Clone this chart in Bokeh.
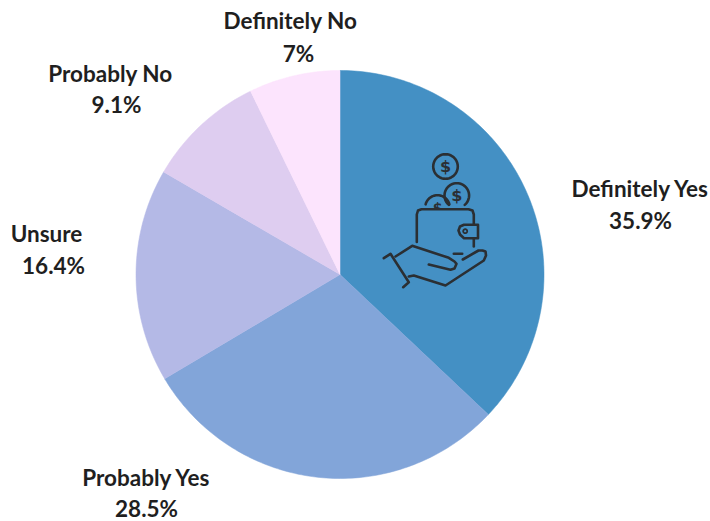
import math
from bokeh.plotting import figure
from bokeh.embed import file_html
from bokeh.resources import INLINE
from bokeh.core.properties import value

categories = ["Definitely Yes", "Probably Yes", "Unsure", "Probably No", "Definitely No"]
values = [35.9, 28.5, 16.4, 9.1, 7]
value_labels = ["35.9%", "28.5%", "16.4%", "9.1%", "7%"]
colors = ["#4490C4", "#82A5D9", "#B4B9E6", "#DECDF0", "#FCE4FD"]
label_x = [640, 146, 46, 110, 290]
label_top = [188, 477, 233, 73, 20]
label_bottom = [220, 508, 265, 104, 53]
value_x = [640, 146, 53, 116, 298]

W, H = 710, 521
CX, CY, R = 339.5, 274, 204
FONT = value("Lato")
INK = "#2b2f33"

p = figure(width=W, height=H, x_range=(0, W), y_range=(H, 0),
           output_backend="svg", toolbar_location=None,
           min_border=0, outline_line_color=None, background_fill_color="white")
p.xaxis.visible = False
p.yaxis.visible = False
p.grid.visible = False

# Slices run clockwise from twelve o'clock, scaled to the sum of the shares.
total = sum(values)
start = 0.0
for share, color in zip(values, colors):
    end = start + share / total
    steps = max(2, int((end - start) * 360))
    xs, ys = [CX], [CY]
    for i in range(steps + 1):
        a = 2 * math.pi * (start + (end - start) * i / steps)
        xs.append(CX + R * math.sin(a))
        ys.append(CY - R * math.cos(a))
    p.patch(xs, ys, fill_color=color, line_color=color, line_width=0.5)
    start = end

p.text(label_x, label_top, text=categories, text_font=FONT, text_font_style="bold",
       text_font_size="22.5px", text_color="#1f1f1f", text_align="center", text_baseline="middle")
p.text(value_x, label_bottom, text=value_labels, text_font=FONT, text_font_style="bold",
       text_font_size="22.5px", text_color="#1f1f1f", text_align="center", text_baseline="middle")


def arc(cx, cy, r, a0, a1, n=40):
    pts = [a0 + (a1 - a0) * i / n for i in range(n + 1)]
    return [cx + r * math.cos(math.radians(t)) for t in pts], [cy + r * math.sin(math.radians(t)) for t in pts]


def stroke(xs, ys, width=2.6):
    p.line(xs, ys, line_color=INK, line_width=width, line_cap="round", line_join="round")


# Wallet-in-hand icon
stroke(*arc(445, 166, 12.3, 0, 360))
stroke(*arc(456.3, 195, 12.3, 130, 410))
for cx, cy in [(445, 166), (456.3, 195)]:
    p.text([cx], [cy], text=["$"], text_font=value("DejaVu Sans"), text_font_style="bold",
           text_font_size="16px", text_color=INK, text_align="center", text_baseline="middle")

# Third coin sits behind the wallet, so only its upper part shows.
p.text([437], [207], text=["$"], text_font=value("DejaVu Sans"), text_font_style="bold",
       text_font_size="14px", text_color=INK, text_align="center", text_baseline="middle")
p.rect([437], [215], width=26, height=13, fill_color="#4490C4", line_color=None)
stroke(*arc(437, 207, 12.3, 195, 345))

stroke([416.3, 416.3, 417.5, 421, 468, 472, 473.3, 473.3],
       [241.5, 214, 210, 208.7, 208.7, 210, 214, 224])
stroke([477.5, 463.5, 459.5, 458, 459.5, 463.5, 477.5, 477.5],
       [224.3, 224.3, 226, 230, 234, 237.7, 237.7, 224.3])
stroke([473.3, 473.3], [237.7, 246])
stroke(*arc(464.7, 230.7, 2, 0, 360), width=1.8)

stroke([383.3, 390, 408.3, 402.7], [257.7, 253.3, 281.7, 286.7])
stroke([395, 411.7, 448.3, 454, 456, 454, 450, 428.3],
       [256, 245.3, 257.3, 261, 263.3, 268, 269.3, 264])
stroke([408.3, 413.3, 445, 483.3, 485.5, 485, 482, 478, 462.3],
       [276, 275, 285, 260, 255, 251, 250, 250, 259])
stroke([453.3, 461.7], [253.3, 253.3])

open("out.html", "w").write(file_html(p, INLINE))
